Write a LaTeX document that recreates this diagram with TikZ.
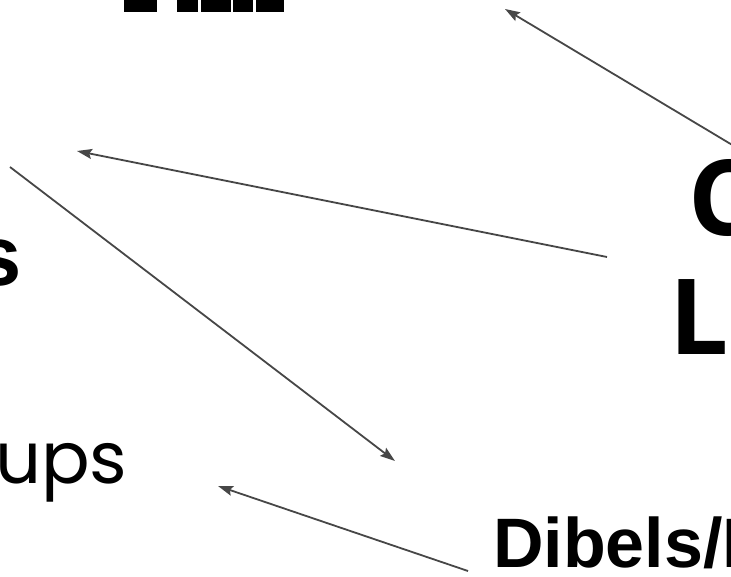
\documentclass[tikz,border=0pt]{standalone}
\usepackage{fontspec}
\setmainfont{Liberation Sans}
\newfontfamily\opensans{Open Sans}
\newfontfamily\poppins{Poppins}
\usepackage{xcolor}
\usepackage{tikz}
\usetikzlibrary{arrows.meta, positioning}
\definecolor{linegray}{HTML}{474747}
\tikzset{
    label/.style={inner sep=0pt, anchor=base west, text=black},
    bigbold/.style={label, font=\fontsize{85}{85}\selectfont\bfseries},
    bigsans/.style={label, font=\opensans\fontsize{105}{105}\selectfont\bfseries},
    roundsans/.style={label, font=\poppins\fontsize{72}{72}\selectfont},
    tagbold/.style={label, font=\fontsize{70}{70}\selectfont\bfseries},
    bar/.style={fill=black, draw=none},
    arrow/.style={-{Stealth[length=15pt, width=10pt, inset=2.5pt]}, line width=1.8pt, color=linegray}
}

\begin{document}
\begin{tikzpicture}[x=1pt, y=-1pt]
    \useasboundingbox (0,0) rectangle (731,577);
    \clip (0,0) rectangle (731,577);

    % cut-off title letters at the top
    \fill [bar] (124,0) rectangle (157,12.5);
    \fill [bar] (177,0) rectangle (198,12.5);
    \fill [bar] (200.5,0) rectangle (231,12.5);
    \fill [bar] (233,0) rectangle (253,12.5);
    \fill [bar] (255.5,0) rectangle (284,12.5);

    \node [bigbold] (s) at (-26,286) {s};
    \node [roundsans] (ups) at (-5,483) {ups};
    \node [bigsans] (c) at (688,236) {C};
    \node [bigsans] (l) at (669,355) {L};
    \node [tagbold] (dib) at (493,567) {Dibels/I};

    \coordinate (a1s) at (734,146);
    \coordinate (a1e) at (505,9);
    \coordinate (a2s) at (607,257);
    \coordinate (a2e) at (77,151);
    \coordinate (a3s) at (10,167);
    \coordinate (a3e) at (395,461);
    \coordinate (a4s) at (468,571);
    \coordinate (a4e) at (218,486);

    \draw [arrow] (a1s) -- (a1e);
    \draw [arrow] (a2s) -- (a2e);
    \draw [arrow] (a3s) -- (a3e);
    \draw [arrow] (a4s) -- (a4e);
\end{tikzpicture}
\end{document}
